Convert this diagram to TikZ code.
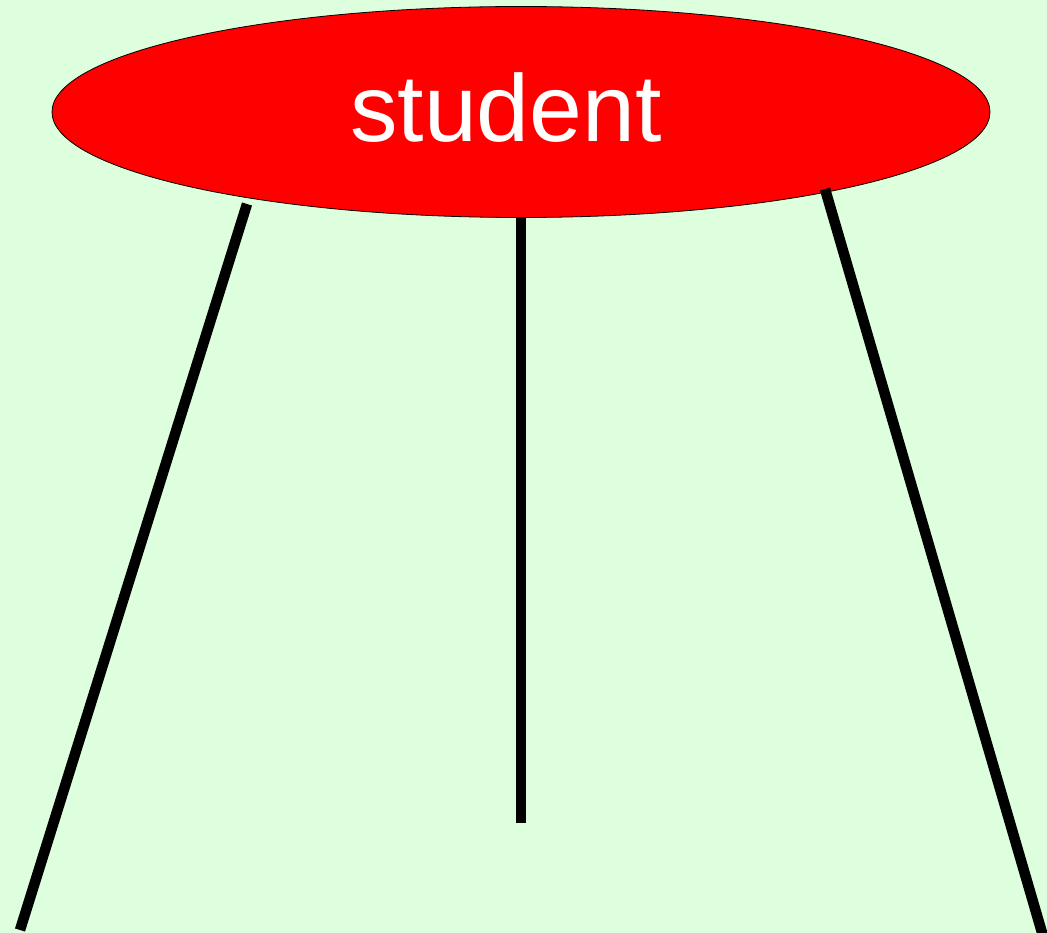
\documentclass[tikz,border=0pt]{standalone}
\usepackage{fontspec}
\setmainfont{Liberation Sans}
\usetikzlibrary{shapes.geometric}
\definecolor{bg}{RGB}{221,255,221}
\tikzset{
  rootnode/.style={ellipse, draw=black, line width=0.8pt, fill=red,
    minimum width=938pt, minimum height=211pt, inner sep=0pt},
  roottext/.style={text=white, inner sep=0pt, font=\fontsize{95}{100}\selectfont},
  branch/.style={line width=10.5pt, draw=black}
}
\begin{document}
\begin{tikzpicture}[x=1pt,y=-1pt]
\useasboundingbox (0,0) rectangle (1047,933);
\fill[bg] (0,0) rectangle (1047,933);
\begin{scope}
\clip (0,0) rectangle (1047,933);
\node[rootnode] (student) at (521,112) {};
\node[roottext, anchor=base] (studentlabel) at (506,142) {student};
\coordinate (lend) at (20,930);
\coordinate (mend) at (521,823);
\coordinate (rend) at (1043,936);
\coordinate (lstart) at (247,204);
\coordinate (rstart) at (825,189);
\draw[branch] (lstart) -- (lend);
\draw[branch] (student.south) -- (mend);
\draw[branch] (rstart) -- (rend);
\end{scope}
\end{tikzpicture}
\end{document}
